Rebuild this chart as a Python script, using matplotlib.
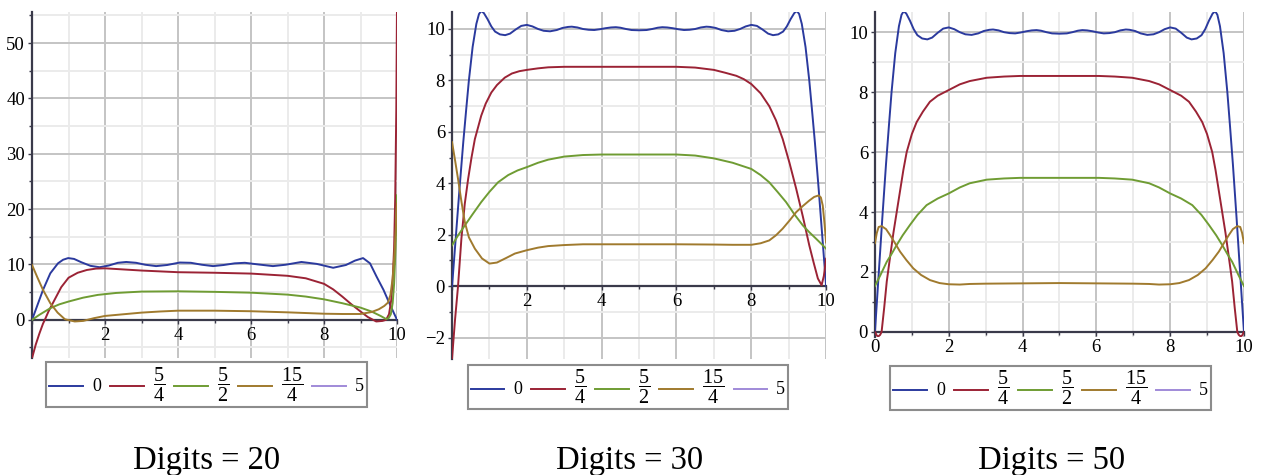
import matplotlib
matplotlib.use('Agg')
import matplotlib.pyplot as plt

plt.rcParams['font.family'] = ['Liberation Serif', 'DejaVu Serif']
plt.rcParams['mathtext.fontset'] = 'custom'
plt.rcParams['mathtext.rm'] = 'Liberation Serif'
plt.rcParams['mathtext.it'] = 'Liberation Serif:italic'

labels = ['0', r'$\dfrac{5}{4}$', r'$\dfrac{5}{2}$', r'$\dfrac{15}{4}$', '5']
colors = ['#2b3a9e', '#9b2335', '#6f9c33', '#a07a2e', '#a08ad8']
captions = ['Digits = 20', 'Digits = 30', 'Digits = 50']

# ---- Digits = 20 ----
x20_blue = [0, 0.15, 0.3, 0.5, 0.71, 0.85, 0.99, 1.15, 1.35, 1.6, 1.85, 2.1, 2.35, 2.58, 2.85,
            3.1, 3.4, 3.7, 4.05, 4.35, 4.65, 4.96, 5.25, 5.55, 5.83, 6.2, 6.6, 6.95, 7.38, 7.8,
            8.25, 8.6, 8.85, 9.07, 9.26, 9.44, 9.63, 9.81, 10]
y20_blue = [0, 2.7, 5.4, 8.4, 10.2, 10.85, 11.15, 11.0, 10.4, 9.75, 9.5, 9.8, 10.3, 10.45, 10.3,
            9.95, 9.7, 9.9, 10.35, 10.3, 9.95, 9.7, 9.9, 10.2, 10.3, 10.0, 9.7, 9.95, 10.45, 10.1,
            9.4, 9.9, 10.7, 11.15, 10.2, 7.8, 5.4, 2.7, 0]
x20_red = [0, 0.1, 0.2, 0.3, 0.35, 0.45, 0.6, 0.8, 1.0, 1.25, 1.5, 1.75, 2.0, 2.5, 3.0, 4.0, 5.0,
           6.0, 7.0, 7.5, 8.0, 8.25, 8.5, 8.75, 9.0, 9.2, 9.43, 9.6, 9.7, 9.78, 9.84, 9.88, 9.92,
           9.95, 9.98, 10]
y20_red = [-6.9, -4.5, -2.5, -0.7, 0, 1.5, 3.4, 5.9, 7.6, 8.5, 9.0, 9.25, 9.3, 9.1, 8.9, 8.6, 8.5,
           8.35, 7.95, 7.5, 6.5, 5.5, 4.2, 2.8, 1.5, 0.5, -0.3, -0.2, 0, 1.0, 3.5, 7, 13,
           22, 38, 58]
x20_green = [0, 0.2, 0.5, 0.75, 1.0, 1.4, 1.8, 2.3, 3.0, 4.0, 5.0, 6.0, 7.0, 7.5, 8.0, 8.5, 9.0,
             9.3, 9.55, 9.7, 9.77, 9.83, 9.88, 9.92, 9.96, 10]
y20_green = [0, 0.9, 2.1, 2.8, 3.3, 4.0, 4.5, 4.85, 5.1, 5.15, 5.05, 4.9, 4.55, 4.2, 3.7, 3.0, 2.2,
             1.5, 0.7, 0.15, 0.3, 1.0, 3.0, 6.5, 13, 22.5]
x20_brown = [0, 0.15, 0.3, 0.5, 0.7, 0.9, 1.17, 1.4, 1.7, 2.0, 2.5, 3.0, 3.5, 4.0, 5.0, 6.0, 7.0,
             8.0, 8.5, 9.0, 9.3, 9.5, 9.65, 9.75, 9.82, 9.88, 9.93, 9.97, 10]
y20_brown = [9.9, 7.6, 5.4, 3.0, 1.3, 0.1, -0.3, -0.2, 0.3, 0.7, 1.0, 1.3, 1.5, 1.65, 1.65, 1.55,
             1.35, 1.1, 1.05, 1.05, 1.4, 1.9, 2.5, 3.1, 4.5, 7.5, 12, 17, 21]

# ---- blue curve, same for Digits = 30 and 50 ----
x_blue = [0, 0.1, 0.2, 0.3, 0.38, 0.45, 0.55, 0.65, 0.72, 0.78, 0.85, 0.95, 1.05, 1.15, 1.28,
          1.42, 1.55, 1.7, 1.85, 2.0, 2.15, 2.3, 2.45, 2.62, 2.8, 2.95, 3.1, 3.2, 3.35, 3.5,
          3.65, 3.8, 3.95, 4.1, 4.25, 4.38, 4.5, 4.65, 4.8, 5.0, 5.2, 5.35, 5.5, 5.62, 5.75,
          5.9, 6.05, 6.2, 6.35, 6.5, 6.65, 6.8, 6.9, 7.05, 7.2, 7.38, 7.55, 7.7, 7.85, 8.0,
          8.15, 8.3, 8.45, 8.58, 8.72, 8.85, 8.95, 9.05, 9.15, 9.22, 9.28, 9.35, 9.45, 9.55,
          9.62, 9.7, 9.8, 9.9, 10]
y_blue = [0, 1.9, 3.8, 5.6, 6.9, 8.0, 9.3, 10.2, 10.58, 10.7, 10.62, 10.38, 10.1, 9.9, 9.79,
          9.76, 9.82, 9.98, 10.12, 10.16, 10.1, 10.0, 9.93, 9.91, 9.96, 10.04, 10.08, 10.09,
          10.06, 10.0, 9.97, 9.96, 9.99, 10.03, 10.06, 10.07, 10.05, 10.0, 9.96, 9.95, 9.96,
          10.0, 10.05, 10.07, 10.06, 10.03, 9.99, 9.96, 9.97, 10.0, 10.06, 10.09, 10.08, 10.04,
          9.96, 9.91, 9.93, 10.0, 10.1, 10.16, 10.12, 9.98, 9.82, 9.76, 9.79, 9.9, 10.1, 10.38,
          10.62, 10.7, 10.58, 10.2, 9.3, 8.0, 6.9, 5.6, 3.8, 1.9, 0]

# ---- Digits = 30 ----
x30_red = [0, 0.08, 0.16, 0.25, 0.34, 0.43, 0.52, 0.61, 0.7, 0.78, 0.9, 1.05, 1.2, 1.41, 1.6, 1.8,
           2.0, 2.3, 2.57, 3.0, 3.5, 4, 5, 6, 6.5, 7.0, 7.3, 7.6, 7.8, 8.0, 8.25, 8.48, 8.66,
           8.84, 9.02, 9.2, 9.38, 9.55, 9.67, 9.78, 9.88, 9.94, 10.0]
y30_red = [-2.8, -1.3, 0, 1.85, 3.2, 4.17, 5.0, 5.72, 6.2, 6.63, 7.1, 7.53, 7.82, 8.11, 8.27, 8.36,
           8.41, 8.47, 8.51, 8.53, 8.53, 8.53, 8.53, 8.53, 8.5, 8.41, 8.3, 8.18, 8.05, 7.86, 7.5,
           7.0, 6.45, 5.72, 4.8, 3.79, 2.7, 1.59, 0.9, 0.3, 0.04, 0.4, 1.07]
x30_green = [0, 0.15, 0.34, 0.55, 0.78, 1.0, 1.23, 1.5, 1.75, 2.0, 2.3, 2.57, 3.0, 3.5, 4, 5, 6,
             6.5, 7.0, 7.5, 8.0, 8.25, 8.48, 8.7, 8.93, 9.15, 9.38, 9.55, 9.73, 9.87, 10]
y30_green = [1.59, 1.95, 2.36, 2.8, 3.27, 3.67, 4.04, 4.32, 4.5, 4.63, 4.8, 4.92, 5.04, 5.1, 5.12,
             5.12, 5.12, 5.08, 4.97, 4.8, 4.56, 4.32, 4.04, 3.67, 3.27, 2.8, 2.36, 2.1, 1.85,
             1.65, 1.46]
x30_brown = [0, 0.08, 0.16, 0.25, 0.34, 0.45, 0.61, 0.8, 1.0, 1.2, 1.45, 1.68, 2.0, 2.3, 2.57, 3.0,
             3.5, 4, 5, 6, 7, 7.5, 8.0, 8.25, 8.48, 8.66, 8.84, 9.02, 9.2, 9.38, 9.55, 9.68, 9.8,
             9.86, 9.91, 9.96, 10]
y30_brown = [5.6, 4.9, 4.17, 3.3, 2.5, 1.9, 1.46, 1.08, 0.88, 0.92, 1.1, 1.27, 1.4, 1.5, 1.56, 1.6,
             1.63, 1.63, 1.63, 1.63, 1.62, 1.61, 1.61, 1.67, 1.78, 1.98, 2.24, 2.55, 2.88, 3.12,
             3.33, 3.47, 3.53, 3.45, 3.14, 2.4, 1.7]

# ---- Digits = 50 ----
x50_red = [0, 0.05, 0.09, 0.14, 0.18, 0.25, 0.32, 0.41, 0.5, 0.59, 0.68, 0.77, 0.86, 1.0, 1.13,
           1.3, 1.49, 1.7, 2.0, 2.3, 2.57, 3.03, 3.5, 3.93, 5, 6.07, 6.5, 6.97, 7.43, 7.7, 8.0,
           8.3, 8.51, 8.7, 8.87, 9.0, 9.14, 9.23, 9.32, 9.41, 9.5, 9.59, 9.68, 9.75, 9.82, 9.86,
           9.91, 9.95, 10.0]
y50_red = [0, -0.12, -0.15, -0.1, 0, 0.8, 1.68, 2.5, 3.3, 4.0, 4.7, 5.4, 6.0, 6.6, 7.0,
           7.35, 7.68, 7.88, 8.07, 8.26, 8.37, 8.48, 8.52, 8.54, 8.54, 8.54, 8.52, 8.48, 8.37,
           8.26, 8.07, 7.88, 7.68, 7.35, 7.0, 6.6, 6.0, 5.4, 4.7, 4.0, 3.3, 2.5, 1.68, 0.8, 0,
           -0.1, -0.15, -0.12, 0]
x50_green = [0, 0.15, 0.32, 0.45, 0.59, 0.75, 0.95, 1.15, 1.4, 1.7, 2.0, 2.3, 2.57, 3.03, 3.5,
             3.93, 5, 6.07, 6.5, 6.97, 7.43, 7.7, 8.0, 8.3, 8.6, 8.85, 9.05, 9.25, 9.41, 9.55,
             9.68, 9.85, 10]
y50_green = [1.53, 1.9, 2.34, 2.6, 2.9, 3.22, 3.57, 3.9, 4.23, 4.45, 4.62, 4.82, 4.96, 5.08, 5.12,
             5.14, 5.14, 5.14, 5.12, 5.08, 4.96, 4.82, 4.62, 4.45, 4.23, 3.9, 3.57, 3.22, 2.9,
             2.6, 2.34, 1.9, 1.53]
x50_brown = [0, 0.05, 0.1, 0.18, 0.3, 0.41, 0.55, 0.68, 0.85, 1.04, 1.25, 1.49, 1.75, 2.0, 2.3,
             2.57, 3.0, 4, 5, 6, 7.0, 7.43, 7.7, 8.0, 8.25, 8.51, 8.75, 8.96, 9.15, 9.32, 9.45,
             9.59, 9.7, 9.82, 9.9, 9.95, 10]
y50_brown = [2.96, 3.3, 3.5, 3.53, 3.43, 3.23, 2.95, 2.68, 2.4, 2.12, 1.9, 1.73, 1.63, 1.59, 1.58,
             1.6, 1.61, 1.62, 1.63, 1.62, 1.61, 1.6, 1.58, 1.59, 1.63, 1.73, 1.9, 2.12, 2.4, 2.68,
             2.95, 3.23, 3.43, 3.53, 3.5, 3.3, 2.96]

xticks = [0, 2, 4, 6, 8, 10]
yticks20 = [0, 10, 20, 30, 40, 50]
yticks30 = [-2, 0, 2, 4, 6, 8, 10]
yticks50 = [0, 2, 4, 6, 8, 10]

panels = [
    dict(curves=[(x20_blue, y20_blue), (x20_red, y20_red), (x20_green, y20_green), (x20_brown, y20_brown)],
         ylim=(-6.9, 55.6), yticks=yticks20, yminor=5, x0label=False,
         rect=[0.0254, 0.2463, 0.2892, 0.7284], leg=(0.1636, 0.1905)),
    dict(curves=[(x_blue, y_blue), (x30_red, y30_red), (x30_green, y30_green), (x30_brown, y30_brown)],
         ylim=(-2.83, 10.66), yticks=yticks30, yminor=1, x0label=False,
         rect=[0.3582, 0.2442, 0.2964, 0.7305], leg=(0.4976, 0.1853)),
    dict(curves=[(x_blue, y_blue), (x50_red, y50_red), (x50_green, y50_green), (x50_brown, y50_brown)],
         ylim=(-0.17, 10.67), yticks=yticks50, yminor=1, x0label=True,
         rect=[0.6933, 0.2905, 0.2924, 0.684], leg=(0.8324, 0.1832)),
]
cap_x = [0.164, 0.4992, 0.8336]

fig = plt.figure(figsize=(12.62, 4.75), dpi=100)

for i, p in enumerate(panels):
    ax = fig.add_axes(p['rect'])
    for (xs, ys), c, lab in zip(p['curves'], colors, labels):
        ax.plot(xs, ys, color=c, lw=1.4, label=lab)
    ax.plot([], [], color=colors[4], lw=1.4, label=labels[4])

    ax.set_xlim(0, 10)
    ax.set_ylim(*p['ylim'])
    ax.set_xticks(xticks)
    ax.set_xticklabels([str(t) if (t != 0 or p['x0label']) else '' for t in xticks])
    ax.set_xticks([1, 3, 5, 7, 9], minor=True)
    ax.set_yticks(p['yticks'])
    ax.set_yticklabels([str(t).replace('-', '\u2212') for t in p['yticks']])
    lo, hi = p['ylim']
    step = p['yminor']
    mins = []
    v = int(lo // step) * step
    while v <= hi:
        if v not in p['yticks'] and v >= lo:
            mins.append(v)
        v += step
    ax.set_yticks(mins, minor=True)

    ax.grid(which='major', color='#c4c4c4', lw=1.4)
    ax.grid(which='minor', color='#ebebeb', lw=1.4)
    ax.set_axisbelow(True)

    for s in ['top', 'right']:
        ax.spines[s].set_visible(False)
    ax.spines['left'].set_position(('data', 0))
    ax.spines['bottom'].set_position(('data', 0))
    for s in ['left', 'bottom']:
        ax.spines[s].set_color('#3a3a4a')
        ax.spines[s].set_linewidth(1.6)
        ax.spines[s].set_zorder(1.5)
    ax.tick_params(which='major', length=3, width=1, color='#3a3a4a', labelsize=13.5, pad=2)
    ax.tick_params(which='minor', length=2, width=1, color='#3a3a4a')
    ax.patch.set_alpha(0)

    leg = ax.legend(loc='center', bbox_to_anchor=p['leg'], bbox_transform=fig.transFigure,
                    ncol=5, fancybox=False, edgecolor='#707070', fontsize=11,
                    handlelength=2.2, handletextpad=0.6, columnspacing=0.6, borderpad=0.2)
    leg.get_frame().set_linewidth(1.5)
    for j, t in enumerate(leg.get_texts()):
        t.set_fontsize(14.5 if 1 <= j <= 3 else 13)

    fig.text(cap_x[i], 0.03, captions[i], ha='center', va='center', fontsize=23.5)

fig.savefig('out.png', dpi=100)
